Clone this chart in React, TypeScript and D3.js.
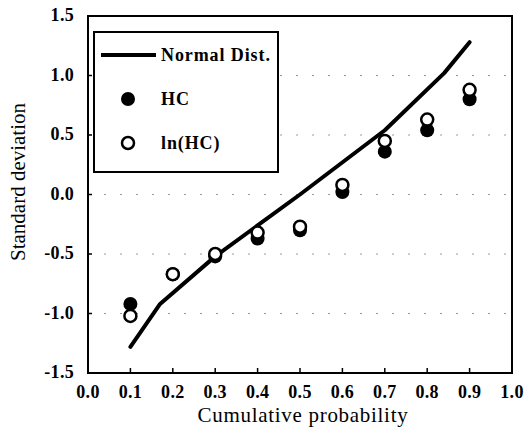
import React from "react";
import * as d3 from "d3";

const probs = [0.1, 0.2, 0.3, 0.4, 0.5, 0.6, 0.7, 0.8, 0.9];
const hcValues = [-0.92, -0.67, -0.52, -0.37, -0.3, 0.02, 0.36, 0.54, 0.8];
const lnHcValues = [-1.02, -0.67, -0.5, -0.32, -0.27, 0.08, 0.45, 0.63, 0.88];
const normalP = [0.1, 0.17, 0.3, 0.5, 0.7, 0.84, 0.9];
const normalV = [-1.28, -0.92, -0.52, 0.0, 0.54, 1.02, 1.28];
const xTicks = [0, 0.1, 0.2, 0.3, 0.4, 0.5, 0.6, 0.7, 0.8, 0.9, 1.0];
const yTicks = [-1.5, -1.0, -0.5, 0.0, 0.5, 1.0, 1.5];

const W = 524;
const H = 432;
const L = 88, R = 512, T = 16, B = 373;

export default function App() {
  const x = d3.scaleLinear().domain([0, 1]).range([L, R]);
  const y = d3.scaleLinear().domain([-1.5, 1.5]).range([B, T]);
  const line = d3
    .line<number>()
    .x((_, i) => x(normalP[i]))
    .y((d) => y(d));
  const serif = "'Liberation Serif', 'Times New Roman', serif";
  return (
    <svg
      width={W}
      height={H}
      style={{ position: "absolute", left: 0, top: 0, background: "#fff" }}
      fontFamily={serif}
    >
      <rect x={0} y={0} width={W} height={H} fill="#fff" />
      {/* gridlines */}
      {yTicks.slice(1, -1).map((t) => (
        <line
          key={"g" + t}
          x1={L}
          x2={R}
          y1={y(t)}
          y2={y(t)}
          stroke="#999"
          strokeWidth={1}
          strokeDasharray="2,14"
        />
      ))}
      {/* frame */}
      <rect x={L} y={T} width={R - L} height={B - T} fill="none" stroke="#000" strokeWidth={2} />
      {/* y ticks */}
      {yTicks.map((t) => (
        <g key={"y" + t}>
          <line x1={L} x2={L + 4} y1={y(t)} y2={y(t)} stroke="#000" strokeWidth={1.5} />
          <text
            x={L - 14}
            y={y(t) + 5}
            textAnchor="end"
            fontWeight="bold"
            fontSize={18}
            letterSpacing={0.3}
          >
            {t.toFixed(1)}
          </text>
        </g>
      ))}
      {/* x ticks */}
      {xTicks.map((t) => (
        <g key={"x" + t}>
          <line x1={x(t)} x2={x(t)} y1={B} y2={B - 5} stroke="#000" strokeWidth={1.5} />
          <text x={x(t)} y={398} textAnchor="middle" fontWeight="bold" fontSize={18} letterSpacing={0.3}>
            {t.toFixed(1)}
          </text>
        </g>
      ))}
      {/* axis titles */}
      <text x={303} y={422} textAnchor="middle" fontSize={21} letterSpacing={0.7}>
        Cumulative probability
      </text>
      <text
        transform={`translate(25,182) rotate(-90)`}
        textAnchor="middle"
        fontSize={21}
      >
        Standard deviation
      </text>
      {/* normal line */}
      <path d={line(normalV) || ""} fill="none" stroke="#000" strokeWidth={4} strokeLinecap="round" strokeLinejoin="round" />
      {/* HC filled */}
      {hcValues.map((v, i) => (
        <circle key={"hc" + i} cx={x(probs[i])} cy={y(v)} r={7} fill="#000" />
      ))}
      {/* ln(HC) open */}
      {lnHcValues.map((v, i) => (
        <circle
          key={"ln" + i}
          cx={x(probs[i])}
          cy={y(v)}
          r={6}
          fill="#fff"
          stroke="#000"
          strokeWidth={2.5}
        />
      ))}
      {/* legend */}
      <rect x={94} y={32} width={184} height={140} fill="#fff" stroke="#000" strokeWidth={2} />
      <line x1={101} x2={156} y1={55} y2={55} stroke="#000" strokeWidth={4} />
      <text x={161} y={61} fontWeight="bold" fontSize={18} letterSpacing={0.9}>
        Normal Dist.
      </text>
      <circle cx={128} cy={99} r={7} fill="#000" />
      <text x={161} y={105} fontWeight="bold" fontSize={18} letterSpacing={0.9}>
        HC
      </text>
      <circle cx={128} cy={143} r={6} fill="#fff" stroke="#000" strokeWidth={2.5} />
      <text x={161} y={149} fontWeight="bold" fontSize={18} letterSpacing={0.9}>
        ln(HC)
      </text>
    </svg>
  );
}
